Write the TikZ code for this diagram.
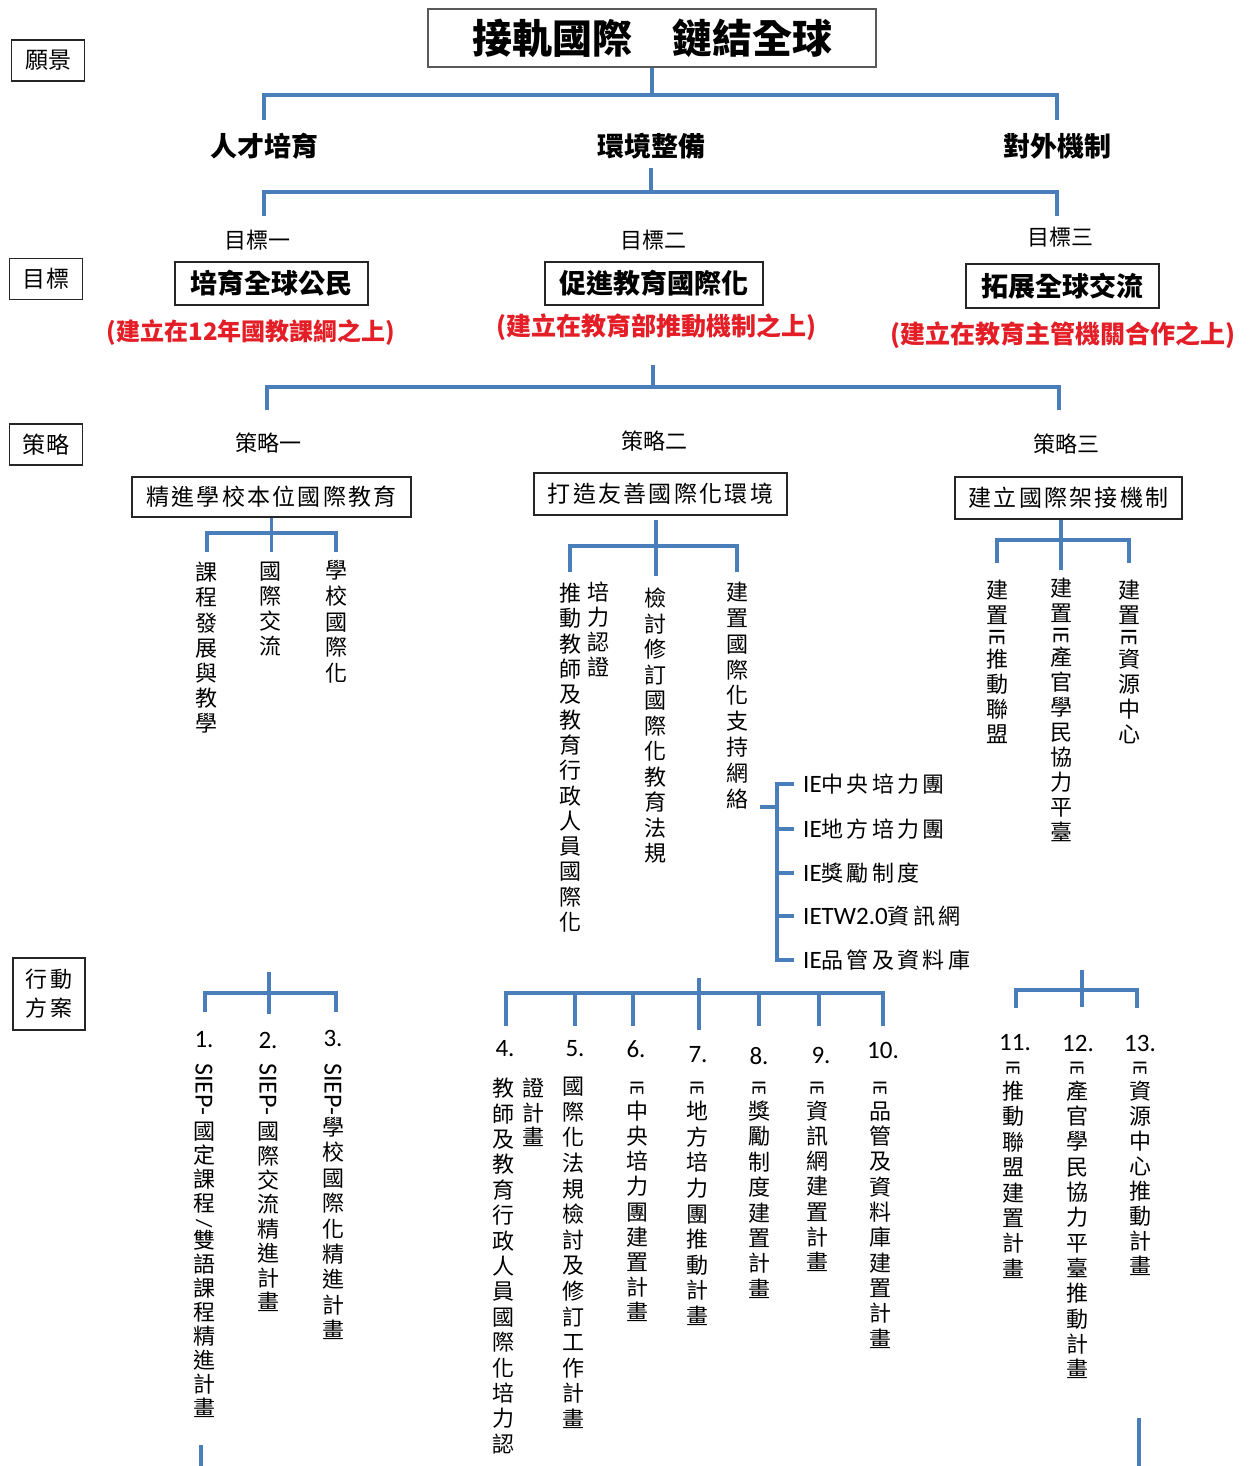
\documentclass[tikz,border=0pt]{standalone}
\usepackage{fontspec}
\setmainfont{Noto Sans CJK TC}
\newfontfamily\cjkls[LetterSpace=10]{Noto Sans CJK TC}
\newfontfamily\cjklw[LetterSpace=15]{Noto Sans CJK TC}
\newfontfamily\lat{Carlito}
\definecolor{conblue}{RGB}{74,126,187}
\definecolor{redtxt}{RGB}{228,30,38}
\newcommand\rie{\rotatebox[origin=c]{-90}{\lat\fontsize{20}{20}\selectfont IE}}
\newcommand\rieb{\rotatebox[origin=c]{-90}{\lat\fontsize{23}{23}\selectfont IE}}
\newcommand\rsl{\rotatebox[origin=c]{-90}{\lat\fontsize{22}{22}\selectfont /}}
\newcommand\lie{{\lat\fontsize{25}{26}\selectfont IE}}
\begin{document}
\begin{tikzpicture}[x=1pt,y=-1pt,
  conn/.style={draw=conblue,line width=3.6pt},
  box/.style={draw=black!85,line width=1.4pt,inner sep=0pt,align=center},
  txt/.style={inner sep=0pt},
  lvl/.style={txt,font=\fontsize{27}{30}\selectfont\bfseries},
  tag/.style={txt,font=\fontsize{22}{24}\selectfont},
  goalbox/.style={box,minimum height=43pt,font=\fontsize{27}{30}\selectfont\bfseries},
  redline/.style={txt,text=redtxt,font=\fontsize{25}{28}\selectfont\bfseries},
  stratbox/.style={box,minimum height=41pt,font=\cjkls\fontsize{23}{26}\selectfont},
  vcol/.style={inner sep=0pt,align=center,anchor=north,font=\fontsize{22}{#1}\selectfont},
  vcol/.default=25.4,
  num/.style={txt,font=\lat\fontsize{25}{26}\selectfont},
  ieitem/.style={anchor=west,inner xsep=9pt,inner ysep=0pt,font=\cjklw\fontsize{22}{24}\selectfont},
  lbl/.style={box,minimum width=73pt,minimum height=41pt,font=\fontsize{23}{26}\selectfont}
]
\useasboundingbox (0,0) rectangle (1248,1466);
\fill[white] (0,0) rectangle (1248,1466);

% ---------- left labels ----------
\node[lbl] (lbvision) at (48,60.5) {願景};
\node[lbl] (lbgoal) at (46,279) {目標};
\node[lbl] (lbstrat) at (46,444.5) {策略};
\node[box,minimum width=72pt,minimum height=72pt,font=\cjkls\fontsize{22}{29}\selectfont] (lbaction) at (49,994) {行動\\方案};

% ---------- vision ----------
\node[box,draw=black!65,minimum width=448pt,minimum height=58pt,font=\fontsize{40}{44}\selectfont\bfseries] (title) at (652,38) {接軌國際　鏈結全球};

\node[lvl] (talent) at (264,146) {人才培育};
\node[lvl] (env) at (651,146) {環境整備};
\node[lvl] (ext) at (1057,146) {對外機制};

\coordinate (j1) at (652,95);
\coordinate (j1l) at (264,95);
\coordinate (j1r) at (1057,95);
\coordinate (e1l) at (264,120);
\coordinate (e1r) at (1057,120);
\draw[conn] (title.south) -- (j1);
\draw[conn] (e1l) -- (j1l) -- (j1r) -- (e1r);

\coordinate (s2) at (651,168);
\coordinate (j2) at (651,192);
\coordinate (j2l) at (264,192);
\coordinate (j2r) at (1057,192);
\coordinate (e2l) at (264,216);
\coordinate (e2r) at (1057,216);
\draw[conn] (s2) -- (j2);
\draw[conn] (e2l) -- (j2l) -- (j2r) -- (e2r);

% ---------- goals ----------
\node[tag] (g1t) at (257,240) {目標一};
\node[tag] (g2t) at (653,240) {目標二};
\node[tag] (g3t) at (1060,237) {目標三};
\node[goalbox,minimum width=193pt] (g1) at (271.5,283.5) {培育全球公民};
\node[goalbox,minimum width=218pt] (g2) at (654,283.5) {促進教育國際化};
\node[goalbox,minimum width=193pt,minimum height=44pt] (g3) at (1062.5,286) {拓展全球交流};
\node[redline,font=\fontsize{24}{28}\selectfont\bfseries] (r1) at (251,333) {(建立在12年國教課綱之上)};
\node[redline] (r2) at (656,327) {(建立在教育部推動機制之上)};
\node[redline] (r3) at (1063,335) {(建立在教育主管機關合作之上)};

\coordinate (s3) at (653,365);
\coordinate (j3) at (653,387);
\coordinate (j3l) at (267,387);
\coordinate (j3r) at (1059,387);
\coordinate (e3l) at (267,410);
\coordinate (e3r) at (1059,410);
\draw[conn] (s3) -- (j3);
\draw[conn] (e3l) -- (j3l) -- (j3r) -- (e3r);

% ---------- strategies ----------
\node[tag] (st1t) at (268,443) {策略一};
\node[tag] (st2t) at (654,441) {策略二};
\node[tag] (st3t) at (1066,444) {策略三};
\node[stratbox,minimum width=279pt,minimum height=40pt] (st1) at (271.5,497) {精進學校本位國際教育};
\node[stratbox,minimum width=253pt,minimum height=42pt] (st2) at (660.5,494) {打造友善國際化環境};
\node[stratbox,minimum width=227pt,minimum height=42pt] (st3) at (1068.5,498) {建立國際架接機制};

% strategy 1 bracket
\coordinate (k1) at (271.5,533);
\coordinate (k1l) at (207,533);
\coordinate (k1r) at (336,533);
\coordinate (f1m) at (271.5,552);
\coordinate (f1l) at (207,552);
\coordinate (f1r) at (336,552);
\draw[conn] (st1.south) -- (f1m);
\draw[conn] (f1l) -- (k1l) -- (k1r) -- (f1r);
\node[vcol=25.2] (c11) at (206,562) {課\\程\\發\\展\\與\\教\\學};
\node[vcol=25] (c12) at (270,562) {國\\際\\交\\流};
\node[vcol=25.8] (c13) at (336.5,560) {學\\校\\國\\際\\化};

% strategy 2 bracket
\coordinate (t2) at (656,520);
\coordinate (f2m) at (656,576);
\coordinate (k2l) at (570,546);
\coordinate (k2r) at (737,546);
\coordinate (f2l) at (570,572);
\coordinate (f2r) at (737,572);
\draw[conn] (t2) -- (f2m);
\draw[conn] (f2l) -- (k2l) -- (k2r) -- (f2r);
\node[vcol=25.3] (c21) at (570,583) {推\\動\\教\\師\\及\\教\\育\\行\\政\\人\\員\\國\\際\\化};
\node[vcol=25] (c22) at (598,582) {培\\力\\認\\證};
\node[vcol=25.5] (c23) at (655,588) {檢\\討\\修\\訂\\國\\際\\化\\教\\育\\法\\規};
\node[vcol=25.8] (c24) at (737,582) {建\\置\\國\\際\\化\\支\\持\\網\\絡};

% IE support network list
\node[ieitem] (ie1) at (794,784) {\lie 中央培力團};
\node[ieitem] (ie2) at (794,829) {\lie 地方培力團};
\node[ieitem] (ie3) at (794,873) {\lie 獎勵制度};
\node[ieitem] (ie4) at (794,916) {{\lat\fontsize{25}{26}\selectfont IETW2.0}資訊網};
\node[ieitem] (ie5) at (794,960) {\lie 品管及資料庫};
\coordinate (iestub) at (760,807);
\coordinate (iejoin) at (777,807);
\draw[conn] (iestub) -- (iejoin);
\draw[conn] (ie1.west) -- ++(-17,0) |- (ie5.west);
\foreach \k in {2,3,4} \draw[conn] (ie\k.west) -- ++(-17,0);

% strategy 3 bracket
\coordinate (f3m) at (1061,570);
\coordinate (k3l) at (997,540);
\coordinate (k3r) at (1129,540);
\coordinate (f3l) at (997,563);
\coordinate (f3r) at (1129,563);
\draw[conn] (st3.south -| f3m) -- (f3m);
\draw[conn] (f3l) -- (k3l) -- (k3r) -- (f3r);
\node[vcol=25] (c31) at (997,580) {建\\置\\[-4pt]\rieb\\[-2pt]推\\動\\聯\\盟};
\node[vcol=25] (c32) at (1061,578) {建\\置\\[-4pt]\rieb\\[-2pt]產\\官\\學\\民\\協\\力\\平\\臺};
\node[vcol=25] (c33) at (1129,580) {建\\置\\[-4pt]\rieb\\[-2pt]資\\源\\中\\心};

% ---------- action plans ----------
% group 1
\coordinate (a1t) at (269,972);
\coordinate (a1b) at (269,1014);
\coordinate (a1kl) at (205,993);
\coordinate (a1kr) at (336,993);
\coordinate (a1fl) at (205,1012);
\coordinate (a1fr) at (336,1012);
\draw[conn] (a1t) -- (a1b);
\draw[conn] (a1fl) -- (a1kl) -- (a1kr) -- (a1fr);
\node[num] (n1) at (204,1040) {1.};
\node[num] (n2) at (268,1040) {2.};
\node[num] (n3) at (333,1038) {3.};
\node[txt,rotate=-90,anchor=west,font=\lat\fontsize{26}{28}\selectfont] (a1s) at (204,1063) {SIEP-};
\node[txt,rotate=-90,anchor=west,font=\lat\fontsize{26}{28}\selectfont] (a2s) at (268,1063) {SIEP-};
\node[txt,rotate=-90,anchor=west,font=\lat\fontsize{26}{28}\selectfont] (a3s) at (333,1063) {SIEP-};
\node[vcol=24] (a1) at (204,1122) {國\\定\\課\\程\\[-5pt]\rsl\\[-6pt]雙\\語\\課\\程\\精\\進\\計\\畫};
\node[vcol=24.4] (a2) at (268,1122) {國\\際\\交\\流\\精\\進\\計\\畫};
\node[vcol=25.4] (a3) at (333,1117) {學\\校\\國\\際\\化\\精\\進\\計\\畫};

% group 2
\coordinate (a2t) at (699,978);
\coordinate (a2b) at (699,1030);
\coordinate (a2kl) at (506,993);
\coordinate (a2kr) at (883,993);
\draw[conn] (a2t) -- (a2b);
\coordinate (d4) at (506,1026);
\coordinate (d5) at (575,1026);
\coordinate (d6) at (633,1026);
\coordinate (d8) at (759,1026);
\coordinate (d9) at (819,1026);
\coordinate (d10) at (883,1026);
\coordinate (h5) at (575,993);
\coordinate (h6) at (633,993);
\coordinate (h8) at (759,993);
\coordinate (h9) at (819,993);
\draw[conn] (d4) -- (a2kl) -- (a2kr) -- (d10);
\draw[conn] (h5) -- (d5);
\draw[conn] (h6) -- (d6);
\draw[conn] (h8) -- (d8);
\draw[conn] (h9) -- (d9);
\node[num] (n4) at (505,1049) {4.};
\node[num] (n5) at (575,1049) {5.};
\node[num] (n6) at (636,1049) {6.};
\node[num] (n7) at (698,1055) {7.};
\node[num] (n8) at (759,1056) {8.};
\node[num] (n9) at (821,1055) {9.};
\node[num] (n10) at (883,1050) {10.};
\node[vcol=25.4] (a4l) at (503,1078) {教\\師\\及\\教\\育\\行\\政\\人\\員\\國\\際\\化\\培\\力\\認};
\node[vcol=24.5] (a4r) at (533,1078) {證\\計\\畫};
\node[vcol=25.6] (a5) at (573,1077) {國\\際\\化\\法\\規\\檢\\討\\及\\修\\訂\\工\\作\\計\\畫};
\node[vcol=25.2] (a6) at (637,1080) {\rie\\中\\央\\培\\力\\團\\建\\置\\計\\畫};
\node[vcol=25.6] (a7) at (697,1080) {\rie\\地\\方\\培\\力\\團\\推\\動\\計\\畫};
\node[vcol=25.4] (a8) at (759,1080) {\rie\\獎\\勵\\制\\度\\建\\置\\計\\畫};
\node[vcol=25.2] (a9) at (817,1080) {\rie\\資\\訊\\網\\建\\置\\計\\畫};
\node[vcol=25.3] (a10) at (880,1080) {\rie\\品\\管\\及\\資\\料\\庫\\建\\置\\計\\畫};

% group 3
\coordinate (a3t) at (1082,970);
\coordinate (a3b) at (1082,1007);
\coordinate (a3kl) at (1016,990);
\coordinate (a3kr) at (1137,990);
\coordinate (a3fl) at (1016,1008);
\coordinate (a3fr) at (1137,1008);
\draw[conn] (a3t) -- (a3b);
\draw[conn] (a3fl) -- (a3kl) -- (a3kr) -- (a3fr);
\node[num] (n11) at (1015,1043) {11.};
\node[num] (n12) at (1078,1043) {12.};
\node[num] (n13) at (1140,1043) {13.};
\node[vcol=25.4] (a11) at (1013,1060) {\rie\\推\\動\\聯\\盟\\建\\置\\計\\畫};
\node[vcol=25.3] (a12) at (1077,1060) {\rie\\產\\官\\學\\民\\協\\力\\平\\臺\\推\\動\\計\\畫};
\node[vcol=25] (a13) at (1140,1060) {\rie\\資\\源\\中\\心\\推\\動\\計\\畫};

% bottom stubs continuing below
\coordinate (bl1) at (201,1445);
\coordinate (bl2) at (201,1466);
\coordinate (br1) at (1139,1418);
\coordinate (br2) at (1139,1466);
\draw[conn] (bl1) -- (bl2);
\draw[conn] (br1) -- (br2);
\end{tikzpicture}
\end{document}
